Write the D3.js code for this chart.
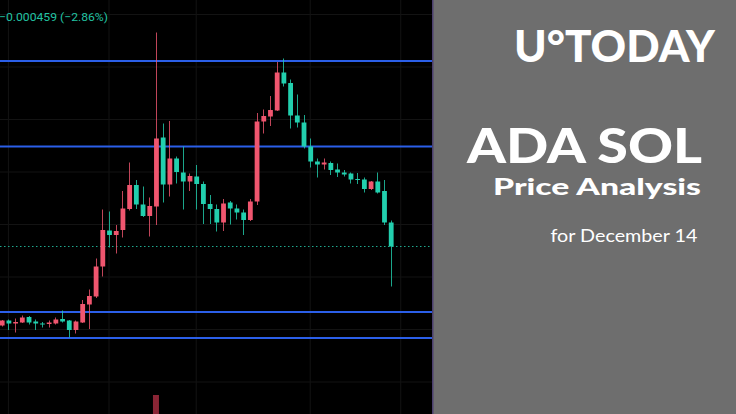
<!DOCTYPE html>
<html><head><meta charset="utf-8">
<script src="https://cdn.jsdelivr.net/npm/d3@7"></script>
<style>html,body{margin:0;padding:0;background:#000;overflow:hidden}svg{display:block}</style>
</head><body><svg id="c" width="736" height="414"></svg>
<script>
// prices are in units of 1e-5 (ADA/SOL)
const openE5 = [1401,1411,1405,1407,1418,1409,1405,1404,1405,1414,
1411,1392,1407,1443,1459,1519,1591,1582,1592,1634,
1682,1643,1620,1639,1777,1683,1735,1707,1689,1699,
1684,1644,1634,1607,1647,1635,1627,1612,1649,1809,
1819,1831,1907,1886,1821,1807,1759,1729,1723,1726,
1713,1707,1705,1694,1693,1674,1689,1670,1607];
const highE5 = [1412,1413,1415,1421,1420,1413,1408,1411,1417,1431,
1412,1411,1452,1473,1535,1633,1629,1602,1670,1727,
1692,1679,1657,1987,1805,1810,1739,1759,1705,1722,
1689,1662,1643,1654,1650,1643,1633,1654,1826,1833,
1860,1928,1935,1893,1863,1822,1775,1735,1735,1729,
1725,1712,1707,1706,1697,1690,1707,1692,1611];
const lowE5 = [1399,1392,1387,1406,1403,1392,1397,1397,1403,1407,
1377,1385,1406,1394,1456,1499,1557,1545,1577,1631,
1634,1618,1579,1602,1647,1659,1685,1633,1670,1633,
1604,1604,1589,1590,1603,1613,1582,1610,1642,1785,
1800,1830,1879,1795,1797,1755,1717,1697,1713,1702,
1698,1699,1685,1684,1667,1672,1665,1602,1479];
const closeE5 = [1411,1405,1408,1417,1407,1405,1403,1407,1413,1409,
1392,1409,1444,1460,1519,1592,1582,1590,1635,1682,
1643,1620,1640,1775,1683,1735,1708,1689,1700,1684,
1644,1634,1607,1645,1635,1627,1612,1649,1809,1820,
1832,1907,1885,1821,1807,1759,1729,1723,1727,1712,
1707,1703,1693,1692,1674,1689,1667,1607,1559];
const levelsE5 = [1930, 1759, 1428, 1376];
const lastPriceE5 = 1559;
const gridPricesE5 = [2023, 1918, 1813, 1708, 1603, 1498, 1393, 1288];
const gridTimeIdx = [1, 16, 29, 46, 59.5];
const volumeIdx = [23];
const volumeVal = [100];
const changeLabel = "\u22120.000459 (\u22122.86%)";
const titleBrand = "U\u00B0TODAY";
const titleMain = "ADA SOL";
const titleSub = "Price Analysis";
const titleDate = "for December 14";

const W = 736, H = 414, chartW = 432;
const svg = d3.select("#c");
const UP = "#f0566f", DOWN = "#22cfae";

svg.append("rect").attr("width", chartW).attr("height", H).attr("fill", "#000");

const n = openE5.length;
const x = d3.scaleLinear().domain([0, n - 1]).range([1.7, 390.7]);
const y = d3.scaleLinear().domain([1224, 2052]).range([H, 0]);
const vy = d3.scaleLinear().domain([0, 100]).range([H, 395]);

const g = svg.append("g");
// grid
g.selectAll("line.hg").data(gridPricesE5).join("line")
  .attr("x1", 0).attr("x2", chartW).attr("y1", d => y(d)).attr("y2", d => y(d))
  .attr("stroke", "#131313").attr("stroke-width", 1);
g.selectAll("line.vg").data(gridTimeIdx).join("line")
  .attr("y1", 0).attr("y2", H).attr("x1", d => x(d)).attr("x2", d => x(d))
  .attr("stroke", "#131313").attr("stroke-width", 1);

// volume
g.selectAll("rect.vol").data(volumeIdx).join("rect")
  .attr("x", d => x(d) - 3).attr("width", 6)
  .attr("y", (d, k) => vy(volumeVal[k])).attr("height", (d, k) => H - vy(volumeVal[k]))
  .attr("fill", "#8a2535");

// levels
g.selectAll("line.lvl").data(levelsE5).join("line")
  .attr("x1", 0).attr("x2", chartW).attr("y1", d => y(d)).attr("y2", d => y(d))
  .attr("stroke", "#2b5fe8").attr("stroke-width", 2);

// last price dotted
g.append("line").attr("x1", 0).attr("x2", chartW)
  .attr("y1", y(lastPriceE5)).attr("y2", y(lastPriceE5))
  .attr("stroke", "#1fa88e").attr("stroke-width", 1).attr("stroke-dasharray", "1.5,2.5");

// candles
const idx = d3.range(n);
const bw = 4.8;
const cg = g.append("g");
cg.selectAll("line.wick").data(idx).join("line")
  .attr("x1", i => Math.round(x(i)) + 0.5).attr("x2", i => Math.round(x(i)) + 0.5)
  .attr("y1", i => y(highE5[i])).attr("y2", i => y(lowE5[i]))
  .attr("stroke", i => closeE5[i] >= openE5[i] ? UP : DOWN).attr("stroke-width", 1)
  .attr("stroke-opacity", 0.8);
cg.selectAll("rect.body").data(idx).join("rect")
  .attr("x", i => x(i) - bw / 2 + 0.5).attr("width", bw)
  .attr("y", i => y(Math.max(openE5[i], closeE5[i])))
  .attr("height", i => Math.max(1, Math.abs(y(openE5[i]) - y(closeE5[i]))))
  .attr("fill", i => closeE5[i] >= openE5[i] ? UP : DOWN);

// change label
svg.append("text").attr("x", -1).attr("y", 20.5).text(changeLabel)
  .attr("fill", "#22c3a3").attr("font-family", "Roboto, 'Noto Sans', sans-serif")
  .attr("font-size", 11.5).attr("textLength", 109).attr("lengthAdjust", "spacingAndGlyphs");

// right panel
svg.append("rect").attr("x", chartW).attr("y", 0).attr("width", W - chartW).attr("height", H).attr("fill", "#6e6e6e");
svg.append("rect").attr("x", chartW).attr("y", 0).attr("width", 1.5).attr("height", H).attr("fill", "#4b3f6e");

const tf = "Lato, 'Open Sans', sans-serif";
const texts = [
  {t: titleBrand, x: 514, y: 61.5, s: 44, w: 900, len: 201},
  {t: titleMain, x: 467, y: 162.5, s: 47, w: 900, len: 235},
  {t: titleSub, x: 493, y: 195, s: 22, w: 900, len: 208},
  {t: titleDate, x: 550.5, y: 241.5, s: 16.5, w: 400, len: 147}
];
svg.selectAll("text.tt").data(texts).join("text")
  .attr("x", d => d.x).attr("y", d => d.y).text(d => d.t)
  .attr("fill", "#fff").attr("font-family", tf).attr("font-size", d => d.s)
  .attr("font-weight", d => d.w).attr("textLength", d => d.len)
  .attr("lengthAdjust", "spacingAndGlyphs");
</script></body></html>
